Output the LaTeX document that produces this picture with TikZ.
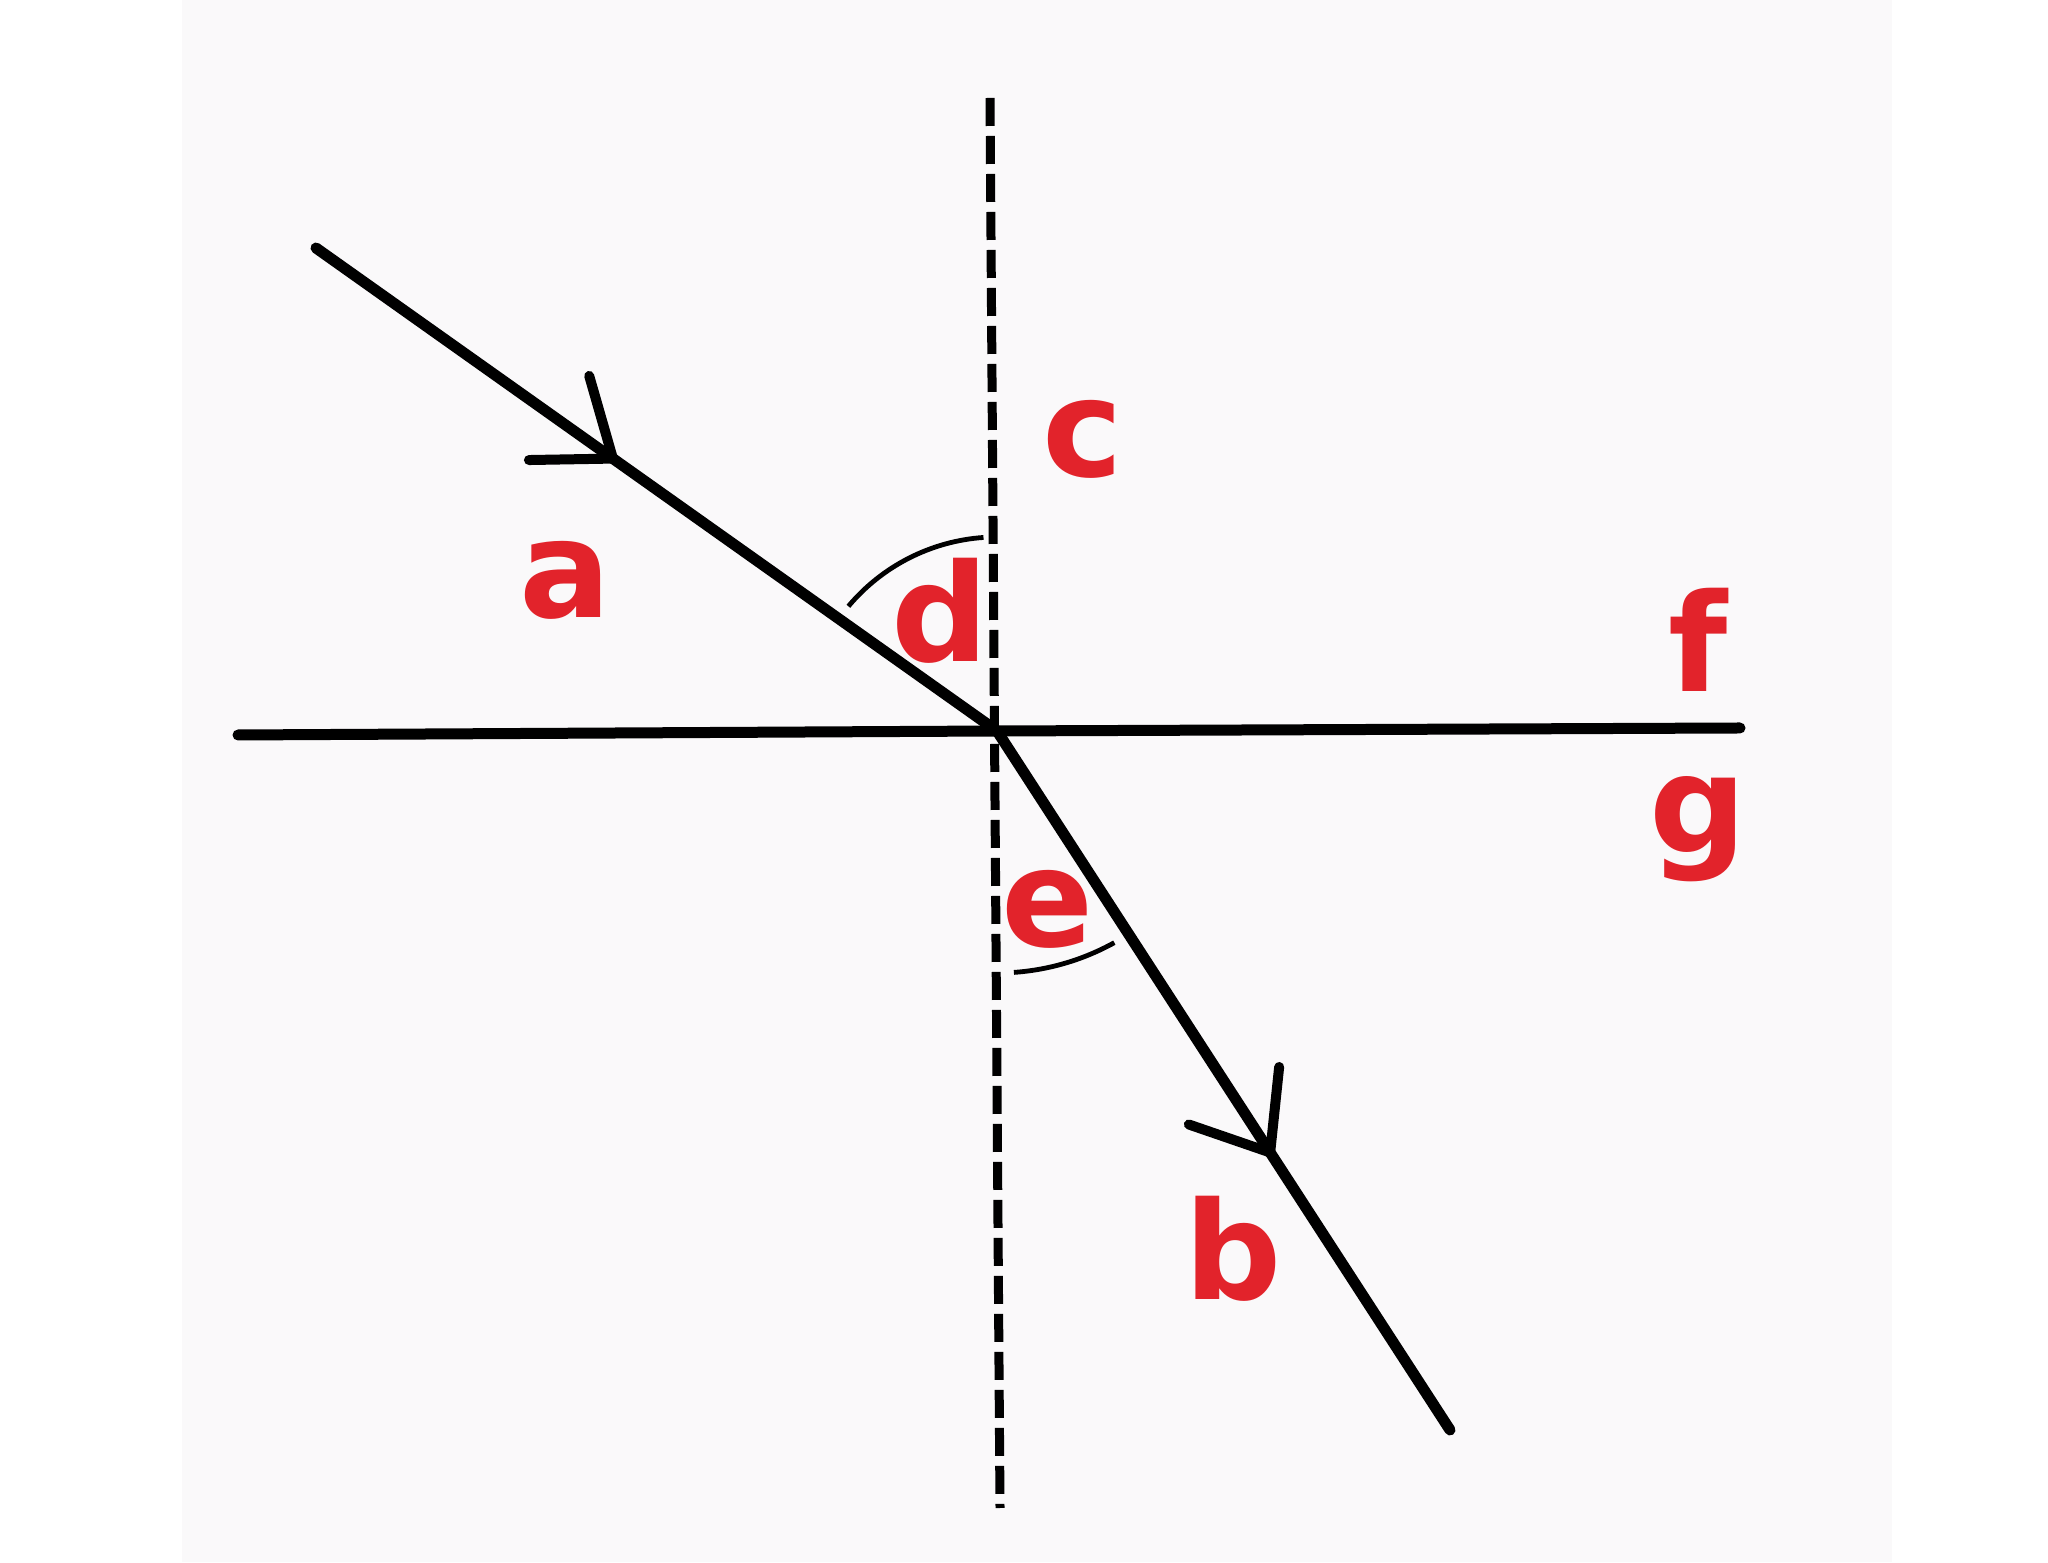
\documentclass[tikz,border=0pt]{standalone}
\usepackage{fontspec}
\setmainfont{DejaVu Sans}
\usepackage{tikz}
\usepackage{xcolor}
\definecolor{labelred}{RGB}{226,35,43}
\definecolor{paper}{RGB}{250,249,250}
\tikzset{
    ray/.style = {draw=black, line width=5.5pt, line cap=round},
    barb/.style = {draw=black, line width=5pt, line cap=round, line join=round},
    normal-line/.style = {draw=black, line width=4.5pt, dash pattern=on 14pt off 5pt},
    angle-arc/.style = {draw=black, line width=2.4pt},
    ray-label/.style = {text=labelred, font=\fontsize{68}{82}\selectfont\bfseries, inner sep=0pt, anchor=base},
}

\begin{document}
\begin{tikzpicture}[x=0.5pt, y=0.5pt]
\useasboundingbox (0,0) rectangle (2048,1562);
\fill[white] (0,0) rectangle (2048,1562);
\fill[paper] (182,0) rectangle (1892,1562);

% points
\coordinate (O) at (997,831);
\coordinate (start) at (316,1314);
\coordinate (end) at (1450,132);
\coordinate (top) at (990,1464);
\coordinate (bottom) at (1000,54);
\coordinate (left) at (238,827);
\coordinate (right) at (1740,834);

% normal and boundary
\draw[normal-line] (top) -- (bottom);
\draw[ray] (left) -- (O) -- (right);

% rays
\draw[ray] (start) -- coordinate[pos=0.436] (tip-a) (O);
\draw[ray] (O) -- coordinate[pos=0.603] (tip-b) (end);
\draw[barb] (tip-a) ++(106:86) -- (tip-a) -- ++(181:84);
\draw[barb] (tip-b) ++(84:86) -- (tip-b) -- ++(161:86);

% angles
\draw[angle-arc] ([shift={(140:97pt)}]O) arc[start angle=140, end angle=94, radius=97pt];
\draw[angle-arc] ([shift={(-86:121pt)}]O) arc[start angle=-86, end angle=-61, radius=121pt];

% labels
\node[ray-label] (a) at (565,944) {a};
\node[ray-label] (b) at (1233,262) {b};
\node[ray-label] (c) at (1083,1085) {c};
\node[ray-label] (d) at (940,900) {d};
\node[ray-label] (e) at (1048,615) {e};
\node[ray-label] (f) at (1698,870) {f};
\node[ray-label] (g) at (1698,709) {g};
\end{tikzpicture}
\end{document}
